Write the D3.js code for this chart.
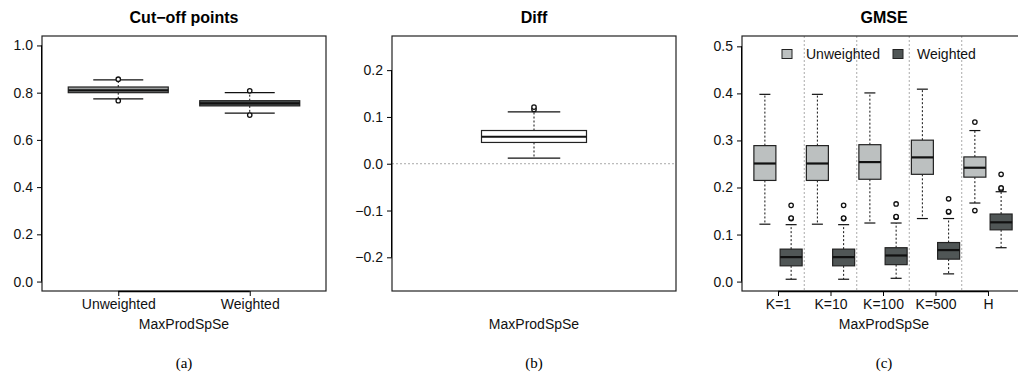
<!DOCTYPE html>
<html>
<head>
<meta charset="utf-8">
<script src="https://cdn.jsdelivr.net/npm/d3@7"></script>
<style>
  body { margin: 0; background: #fff; }
  svg { display: block; }
  svg text { font-family: "Liberation Sans", Arial, sans-serif; }
  svg text.tag { font-family: "Liberation Serif", serif; }
</style>
</head>
<body>
<div id="chart"></div>
<script>
// panel (a): cut-off points
const cutCats = ["Unweighted", "Weighted"];
const cutLo  = [0.774, 0.713];
const cutQ1  = [0.800, 0.744];
const cutMed = [0.810, 0.755];
const cutQ3  = [0.824, 0.766];
const cutHi  = [0.854, 0.800];
const cutOut = [[0.857, 0.766], [0.808, 0.705]];
const cutTicks = [0, 0.2, 0.4, 0.6, 0.8, 1.0];

// panel (b): diff
const diffStats = [0.012, 0.0455, 0.0577, 0.071, 0.111];
const diffOut = [0.116, 0.121];
const diffTicks = [-0.2, -0.1, 0, 0.1, 0.2];

// panel (c): GMSE
const gCats = ["K=1", "K=10", "K=100", "K=500", "H"];
const unwLo  = [0.122, 0.122, 0.1245, 0.134, 0.167];
const unwQ1  = [0.215, 0.215, 0.2175, 0.228, 0.222];
const unwMed = [0.251, 0.251, 0.254, 0.264, 0.242];
const unwQ3  = [0.289, 0.289, 0.291, 0.3006, 0.265];
const unwHi  = [0.398, 0.398, 0.401, 0.409, 0.321];
const unwOut = [[], [], [], [], [0.339, 0.151]];
const wLo  = [0.005, 0.005, 0.007, 0.0164, 0.072];
const wQ1  = [0.0335, 0.0335, 0.036, 0.0477, 0.110];
const wMed = [0.052, 0.052, 0.0555, 0.067, 0.126];
const wQ3  = [0.069, 0.069, 0.072, 0.083, 0.1436];
const wHi  = [0.121, 0.121, 0.1245, 0.134, 0.191];
const wOut = [[0.134, 0.135, 0.162], [0.134, 0.135, 0.162], [0.137, 0.138, 0.165], [0.148, 0.149, 0.176], [0.197, 0.199, 0.228]];
const gTicks = [0, 0.1, 0.2, 0.3, 0.4, 0.5];

const lightFill = "#bcc0c0", darkFill = "#505656";
const plotTop = 36, plotBottom = 291;
const fs = "14px";

const svg = d3.select("#chart").append("svg")
    .attr("width", 1018)
    .attr("height", 375);

function yAxis(y, left, ticks) {
  svg.append("g")
      .attr("transform", `translate(${left},0)`)
      .call(d3.axisLeft(y).tickValues(ticks).tickSize(5).tickPadding(4)
        .tickFormat(d => d3.format(".1f")(d).replace("-", "\u2212")))
      .call(g => g.attr("font-family", null).attr("font-size", null))
      .call(g => g.select(".domain").attr("d", `M-0.5,${y(ticks[0])}V${y(ticks[ticks.length - 1])}`))
      .call(g => g.selectAll("text").attr("fill", "#111").style("font-size", fs));
}

function frame(left, title, label, tag) {
  svg.append("rect")
      .attr("x", left).attr("y", plotTop)
      .attr("width", 284).attr("height", plotBottom - plotTop)
      .attr("fill", "none").attr("stroke", "#222").attr("stroke-width", 1.2);
  svg.append("text")
      .attr("x", left + 142).attr("y", 23)
      .attr("text-anchor", "middle")
      .style("font-size", "16px").style("font-weight", "bold")
      .text(title);
  svg.append("text")
      .attr("x", left + 142).attr("y", 329)
      .attr("text-anchor", "middle")
      .style("font-size", fs).attr("fill", "#111")
      .text(label);
  svg.append("text")
      .attr("class", "tag")
      .attr("x", left + 142).attr("y", 368)
      .attr("text-anchor", "middle")
      .style("font-size", "15px")
      .text(tag);
}

function drawBox(g, cx, w, s, out, y, fill) {
  const [lo, q1, med, q3, hi] = s;
  g.append("line").attr("x1", cx).attr("x2", cx).attr("y1", y(q3)).attr("y2", y(hi))
      .attr("stroke", "#111").attr("stroke-dasharray", "2,2");
  g.append("line").attr("x1", cx).attr("x2", cx).attr("y1", y(q1)).attr("y2", y(lo))
      .attr("stroke", "#111").attr("stroke-dasharray", "2,2");
  [lo, hi].forEach(v => g.append("line")
      .attr("x1", cx - w / 4).attr("x2", cx + w / 4).attr("y1", y(v)).attr("y2", y(v))
      .attr("stroke", "#111").attr("stroke-width", 1.2));
  g.append("rect").attr("x", cx - w / 2).attr("y", y(q3))
      .attr("width", w).attr("height", y(q1) - y(q3))
      .attr("fill", fill).attr("stroke", "#222").attr("stroke-width", 1.2);
  g.append("line").attr("x1", cx - w / 2).attr("x2", cx + w / 2).attr("y1", y(med)).attr("y2", y(med))
      .attr("stroke", "#111").attr("stroke-width", 2.2);
  out.forEach(v => g.append("circle").attr("cx", cx).attr("cy", y(v)).attr("r", 2.2)
      .attr("fill", "#fff").attr("stroke", "#111").attr("stroke-width", 1.3));
}

function xAxis(x, values, labels, from, to) {
  svg.append("g")
      .attr("transform", `translate(0,${plotBottom})`)
      .call(d3.axisBottom(x).tickValues(values).tickFormat((d, i) => labels[i]).tickSize(5).tickPadding(3))
      .call(g => g.attr("font-family", null).attr("font-size", null))
      .call(g => g.select(".domain").attr("d", `M${x(from)},0.5H${x(to)}`).attr("stroke-width", 1.5))
      .call(g => g.selectAll("text").attr("fill", "#111").style("font-size", fs));
}

// ---- panel (a)
{
  const left = 42;
  const y = d3.scaleLinear().domain([-0.04, 1.04]).range([plotBottom, plotTop]);
  const x = d3.scaleLinear().domain([0.42, 2.58]).range([left, left + 284]);
  const g = svg.append("g");
  cutCats.forEach((c, i) => drawBox(g, x(i + 1), 100,
      [cutLo[i], cutQ1[i], cutMed[i], cutQ3[i], cutHi[i]], cutOut[i], y, i ? darkFill : "#9c9f9f"));
  frame(left, "Cut\u2212off points", "MaxProdSpSe", "(a)");
  yAxis(y, left, cutTicks);
  xAxis(x, [1, 2], cutCats, 1, 2);
}

// ---- panel (b)
{
  const left = 392;
  const y = d3.scaleLinear().domain([-0.272, 0.273]).range([plotBottom, plotTop]);
  svg.append("line").attr("x1", left).attr("x2", left + 284).attr("y1", y(0)).attr("y2", y(0))
      .attr("stroke", "#aaa").attr("stroke-dasharray", "2,2");
  const g = svg.append("g");
  drawBox(g, left + 142, 105, diffStats, diffOut, y, "#fff");
  frame(left, "Diff", "MaxProdSpSe", "(b)");
  yAxis(y, left, diffTicks);
}

// ---- panel (c)
{
  const left = 742;
  const y = d3.scaleLinear().domain([-0.02, 0.522]).range([plotBottom, plotTop]);
  const x = d3.scaleLinear().domain([0.314, 5.724]).range([left, left + 284]);
  [1.5, 2.5, 3.5, 4.5].forEach(v => svg.append("line")
      .attr("x1", x(v)).attr("x2", x(v)).attr("y1", plotTop).attr("y2", plotBottom)
      .attr("stroke", "#aaa").attr("stroke-dasharray", "2,2"));
  const g = svg.append("g");
  gCats.forEach((c, i) => {
    drawBox(g, x(i + 1 - 0.25), 22, [unwLo[i], unwQ1[i], unwMed[i], unwQ3[i], unwHi[i]], unwOut[i], y, lightFill);
    drawBox(g, x(i + 1 + 0.25), 22, [wLo[i], wQ1[i], wMed[i], wQ3[i], wHi[i]], wOut[i], y, darkFill);
  });
  frame(left, "GMSE", "MaxProdSpSe", "(c)");
  yAxis(y, left, gTicks);
  xAxis(x, [1, 2, 3, 4, 5], gCats, 1, 5);

  // legend
  const leg = svg.append("g");
  [["Unweighted", lightFill, 787], ["Weighted", darkFill, 898]].forEach(([t, f, lx]) => {
    leg.append("rect").attr("x", lx - 5).attr("y", 49.5).attr("width", 10).attr("height", 9)
        .attr("fill", f).attr("stroke", "#222");
    leg.append("text").attr("x", lx + 19).attr("y", 59).attr("fill", "#111")
        .style("font-size", fs).text(t);
  });
}
</script>
</body>
</html>
